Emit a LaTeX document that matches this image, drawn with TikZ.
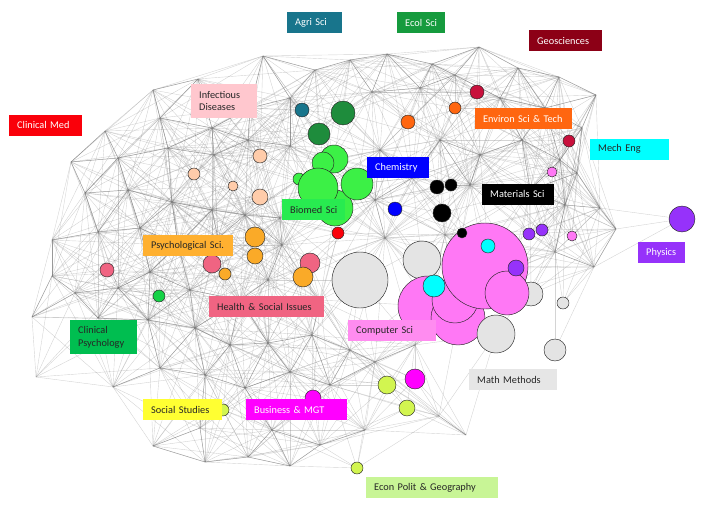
\documentclass[tikz,border=0pt]{standalone}
\usepackage{fontspec}
\setmainfont{Carlito}

\definecolor{agri}{RGB}{24,117,140}
\definecolor{ecol}{RGB}{22,155,62}
\definecolor{ecolball}{RGB}{30,140,60}
\definecolor{geo}{RGB}{140,0,22}
\definecolor{geoball}{RGB}{200,16,60}
\definecolor{clinmed}{RGB}{250,0,10}
\definecolor{infect}{RGB}{255,199,206}
\definecolor{peach}{RGB}{255,204,170}
\definecolor{environ}{RGB}{255,102,16}
\definecolor{mech}{RGB}{0,255,255}
\definecolor{chem}{RGB}{0,0,255}
\definecolor{biomed}{RGB}{40,235,80}
\definecolor{bioball}{RGB}{60,240,70}
\definecolor{psych}{RGB}{255,176,48}
\definecolor{psychball}{RGB}{250,170,40}
\definecolor{physics}{RGB}{150,50,250}
\definecolor{health}{RGB}{240,100,130}
\definecolor{clinpsy}{RGB}{0,190,80}
\definecolor{clinpsyball}{RGB}{20,210,70}
\definecolor{comp}{RGB}{255,140,240}
\definecolor{compball}{RGB}{255,120,245}
\definecolor{math}{RGB}{230,230,230}
\definecolor{mathball}{RGB}{228,228,228}
\definecolor{social}{RGB}{255,255,50}
\definecolor{business}{RGB}{255,0,255}
\definecolor{econ}{RGB}{200,245,150}
\definecolor{econball}{RGB}{210,245,80}

% hubs of the field mesh (x/y in px, y down)
\newcommand\hubs{153/90, 198/79, 263/56, 315/70, 350/60, 387/54, 432/64, 479/47, 518/68, 559/77, 596/95,
  105/131, 160/118, 212/128, 250/108, 290/98, 372/92, 420/88, 455/75, 500/98, 545/108, 582/128,
  71/162, 118/158, 168/148, 214/155, 248/140, 290/146, 380/150, 440/140, 480/155, 522/140, 560/160, 577/173,
  85/193, 128/190, 172/202, 212/210, 245/215, 280/218, 375/200, 412/178, 470/185, 530/190, 565/205, 600/208,
  52/240, 98/232, 140/228, 178/245, 218/238, 282/245, 385/238, 445/235, 555/252, 594/267, 616/229,
  52/276, 75/293, 118/288, 150/272, 190/290, 240/300, 268/280, 320/300,
  32/317, 98/318, 148/320, 195/328, 230/345, 268/343, 312/335, 350/350,
  36/377, 113/387, 160/368, 205/375, 245/388, 290/372, 330/385, 375/362, 415/345,
  153/446, 205/462, 248/457, 290/466, 200/428, 272/430, 320/445, 365/430, 439/416, 466/435}

% fields: x/y/radius/colour, back to front
\newcommand\balls{302/110/7/agri, 343/113/12/ecolball, 319/134/11/ecolball,
  334/159/14/bioball, 323/163/11/bioball, 299/179/6/bioball, 335/208/18/bioball,
  318/188/20/bioball, 357/184/16/bioball, 338/233/6/clinmed, 395/209/7/chem,
  437/187/7/black, 451/185/6/black, 442/213/9/black, 408/122/7/environ, 455/108/6/environ,
  477/92/7/geoball, 569/141/6/geoball, 260/156/7/peach, 194/174/6/peach, 233/186/5/peach,
  260/197/8/peach, 552/172/5/compball, 572/236/5/compball, 682/219/13/physics,
  529/234/6/physics, 542/230/6/physics, 255/237/10/psychball, 255/256/8/psychball,
  310/263/10/health, 225/274/6/psychball, 303/277/10/psychball, 212/264/9/health,
  107/270/7/health, 159/296/6/clinpsyball, 360/280/28/mathball, 422/260/19/mathball,
  531/294/12/mathball, 563/303/6/mathball, 428/306/30/compball, 458/318/27/compball,
  455/300/23/compball, 485/266/43/compball, 507/293/22/compball, 496/334/19/mathball,
  555/350/11/mathball, 462/233/5/black, 488/246/7/mech, 434/286/11/mech, 516/268/8/physics,
  313/398/8/business, 415/379/10/business, 387/385/9/econball, 407/408/8/econball,
  357/468/6/econball, 223/410/6/econball}

\begin{document}
\begin{tikzpicture}[x=1pt,y=-1pt,
    link/.style={draw=black!50,line width=0.4pt,opacity=0.34},
    strong/.style={draw=black!75,line width=0.5pt,opacity=0.4},
    ball/.style={circle,draw=black!85,line width=0.45pt,inner sep=0pt,fill=#1},
    tag/.style 2 args={fill=#1,text width=#2,anchor=west,inner xsep=8pt,inner ysep=0pt,
      minimum height=21pt,align=left,text=black!85,font=\fontsize{10.3}{12.7}\selectfont}]
  \useasboundingbox (0,0) rectangle (702,506);

  \foreach \x/\y [count=\i] in \hubs
    \coordinate (v\i) at (\x,\y);
  \foreach \x/\y/\r/\c [count=\k] in \balls
    \coordinate (p\k) at (\x,\y);

  % mesh: hub to hub
  \foreach \xa/\ya [count=\i] in \hubs {
    \foreach \xb/\yb [count=\j] in \hubs {
      \ifnum\j>\i
        \ifnum\numexpr(\xb-\xa)*(\xb-\xa)+(\yb-\ya)*(\yb-\ya)\relax<17000
          \draw[link] (v\i) -- (v\j);
        \fi
        \ifnum\numexpr(\xb-\xa)*(\xb-\xa)+(\yb-\ya)*(\yb-\ya)\relax<3000
          \draw[strong] (v\i) -- (v\j);
        \fi
      \fi
    }
  }
  % mesh: field to hub
  \foreach \xa/\ya/\r/\c [count=\k] in \balls {
    \foreach \xb/\yb [count=\j] in \hubs {
      \ifnum\numexpr(\xb-\xa)*(\xb-\xa)+(\yb-\ya)*(\yb-\ya)\relax<12000
        \draw[link] (p\k) -- (v\j);
      \fi
    }
  }

  % fields
  \foreach \x/\y/\r/\c [count=\k] in \balls
    \node[ball=\c,minimum size=2*\r*1pt] (b\k) at (p\k) {};

  % labels
  \node[tag={agri}{39pt},text=white] (lagri) at (287,22.5) {\mbox{Agri Sci}};
  \node[tag={ecol}{32pt},text=white] (lecol) at (397,22.5) {\mbox{Ecol Sci}};
  \node[tag={geo}{57pt},text=white] (lgeo) at (529,40.5) {\mbox{Geosciences}};
  \node[tag={clinmed}{57pt},text=white] (lclinmed) at (9,125) {\mbox{Clinical Med}};
  \node[tag={infect}{50pt},minimum height=34pt] (linfect) at (191,101) {Infectious\\Diseases};
  \node[tag={environ}{81pt},text=white] (lenviron) at (475,118.5) {\mbox{Environ Sci \& Tech}};
  \node[tag={mech}{63pt}] (lmech) at (590,149) {\mbox{Mech Eng}};
  \node[tag={chem}{46pt},text=white] (lchem) at (367,167.5) {\mbox{Chemistry}};
  \node[tag={black}{56pt},text=white] (lmat) at (482,194) {\mbox{Materials Sci}};
  \node[tag={biomed}{47pt}] (lbiomed) at (282,209.5) {\mbox{Biomed Sci}};
  \node[tag={psych}{74pt}] (lpsych) at (143,245.5) {\mbox{Psychological Sci.}};
  \node[tag={physics}{31pt},text=white] (lphysics) at (638,252.5) {\mbox{Physics}};
  \node[tag={health}{99pt}] (lhealth) at (209,306.5) {\mbox{Health \& Social Issues}};
  \node[tag={clinpsy}{51pt},minimum height=34pt] (lclinpsy) at (70,337) {Clinical\\Psychology};
  \node[tag={comp}{72pt}] (lcomp) at (348,330.5) {\mbox{Computer Sci}};
  \node[tag={math}{72pt}] (lmath) at (469,379.5) {\mbox{Math Methods}};
  \node[tag={social}{63pt}] (lsocial) at (143,409.5) {\mbox{Social Studies}};
  \node[tag={business}{85pt},text=white] (lbusiness) at (246,409.5) {\mbox{Business \& MGT}};
  \node[tag={econ}{116pt}] (lecon) at (366,487.5) {\mbox{Econ Polit \& Geography}};
\end{tikzpicture}
\end{document}
